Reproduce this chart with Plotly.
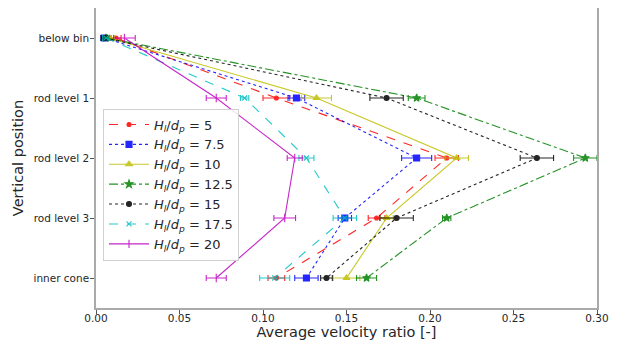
import plotly.graph_objects as go

categories = ["below bin", "rod level 1", "rod level 2", "rod level 3", "inner cone"]
x_ticks = [0.0, 0.05, 0.10, 0.15, 0.20, 0.25, 0.30]
x_tick_labels = ["0.00", "0.05", "0.10", "0.15", "0.20", "0.25", "0.30"]

labels = ["5", "7.5", "10", "12.5", "15", "17.5", "20"]
v_5 = [0.012, 0.108, 0.210, 0.168, 0.108]
e_5 = [0.003, 0.008, 0.007, 0.005, 0.005]
v_7_5 = [0.005, 0.120, 0.192, 0.149, 0.126]
e_7_5 = [0.002, 0.005, 0.009, 0.004, 0.007]
v_10 = [0.008, 0.132, 0.216, 0.174, 0.150]
e_10 = [0.003, 0.009, 0.007, 0.004, 0.008]
v_12_5 = [0.006, 0.192, 0.293, 0.210, 0.162]
e_12_5 = [0.002, 0.005, 0.007, 0.0025, 0.006]
v_15 = [0.005, 0.174, 0.264, 0.180, 0.138]
e_15 = [0.002, 0.010, 0.010, 0.010, 0.0035]
v_17_5 = [0.006, 0.089, 0.126, 0.149, 0.107]
e_17_5 = [0.002, 0.0025, 0.0045, 0.007, 0.009]
v_20 = [0.017, 0.072, 0.119, 0.113, 0.072]
e_20 = [0.0065, 0.006, 0.0045, 0.0065, 0.006]

values = [v_5, v_7_5, v_10, v_12_5, v_15, v_17_5, v_20]
errors = [e_5, e_7_5, e_10, e_12_5, e_15, e_17_5, e_20]
colors = ["#ff0000", "#0000ff", "#bfbf00", "#008000", "#000000", "#00bfbf", "#bf00bf"]
dashes = ["dash", "dot", "solid", "dashdot", "dot", "dash", "solid"]
symbols = ["circle", "square", "triangle-up", "star", "circle", "x-thin-open", "line-ns-open"]
sizes = [4, 6, 6, 6, 5, 5, 6]

fig = go.Figure()
for lab, v, e, c, d, s, sz in zip(labels, values, errors, colors, dashes, symbols, sizes):
    fig.add_trace(go.Scatter(
        x=v, y=categories, mode="lines+markers",
        name="<i>H</i><sub><i>l</i></sub>/<i>d</i><sub><i>p</i></sub> = " + lab,
        line=dict(color=c, dash=d, width=1.1),
        marker=dict(symbol=s, size=sz, color=c, line=dict(color=c, width=1.1)),
        error_x=dict(type="data", array=e, visible=True, color=c, thickness=1.1, width=3),
        opacity=0.85,
    ))

fig.update_layout(
    width=609, height=332,
    margin=dict(l=88, r=20, t=0, b=32),
    paper_bgcolor="white", plot_bgcolor="white",
    font=dict(family="DejaVu Sans", size=10.5, color="#262626"),
    showlegend=True,
    legend=dict(x=0.014, y=0.665, xanchor="left", yanchor="top",
                bgcolor="rgba(255,255,255,0.85)", bordercolor="#d0d0d0", borderwidth=1,
                font=dict(size=13, family="DejaVu Sans", color="#262626"),
                tracegroupgap=0, itemwidth=40),
    xaxis=dict(range=[0, 0.30], tickvals=x_ticks, ticktext=x_tick_labels, automargin=False,
               showgrid=False, zeroline=False, showline=True, linecolor="#aaaaaa",
               linewidth=1.5, mirror=True, ticks="outside", ticklen=4, tickcolor="#555",
               ticklabelstandoff=-4,
               title=dict(text="Average velocity ratio [-]", font=dict(size=14.5), standoff=2)),
    yaxis=dict(type="category", categoryorder="array", categoryarray=categories, automargin=False,
               range=[4.5, -0.5], showgrid=False, zeroline=False, showline=True,
               linecolor="#aaaaaa", linewidth=1.5, mirror=True, ticks="outside",
               ticklen=4, tickcolor="#555", ticklabelstandoff=-1,
               title=dict(text="Vertical position", font=dict(size=14.5), standoff=6)),
)

fig.write_html("out.html")
